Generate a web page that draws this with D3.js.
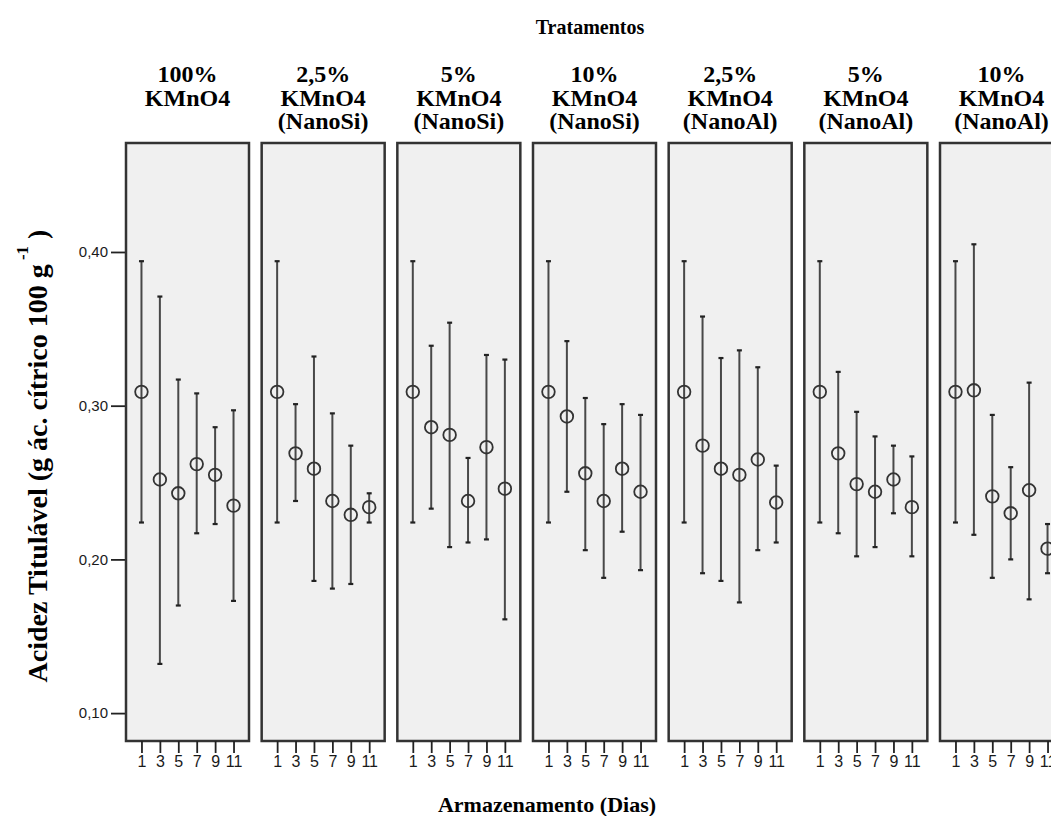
<!DOCTYPE html>
<html>
<head>
<meta charset="utf-8">
<script src="https://cdn.jsdelivr.net/npm/d3@7"></script>
<style>
  body { margin: 0; background: #fff; }
  svg { display: block; }
</style>
</head>
<body>
<div id="chart"></div>
<script>
// treatments (header lines), storage days and the mean / CI values per treatment
const treatments = [
  ["100%", "KMnO4"],
  ["2,5%", "KMnO4", "(NanoSi)"],
  ["5%", "KMnO4", "(NanoSi)"],
  ["10%", "KMnO4", "(NanoSi)"],
  ["2,5%", "KMnO4", "(NanoAl)"],
  ["5%", "KMnO4", "(NanoAl)"],
  ["10%", "KMnO4", "(NanoAl)"]
];
const days = [1, 3, 5, 7, 9, 11];
const yTicks = [0.10, 0.20, 0.30, 0.40];

const means = [
  [0.309, 0.252, 0.243, 0.262, 0.255, 0.235],
  [0.309, 0.269, 0.259, 0.238, 0.229, 0.234],
  [0.309, 0.286, 0.281, 0.238, 0.273, 0.246],
  [0.309, 0.293, 0.256, 0.238, 0.259, 0.244],
  [0.309, 0.274, 0.259, 0.255, 0.265, 0.237],
  [0.309, 0.269, 0.249, 0.244, 0.252, 0.234],
  [0.309, 0.310, 0.241, 0.230, 0.245, 0.207]
];
const upper = [
  [0.394, 0.371, 0.317, 0.308, 0.286, 0.297],
  [0.394, 0.301, 0.332, 0.295, 0.274, 0.243],
  [0.394, 0.339, 0.354, 0.266, 0.333, 0.330],
  [0.394, 0.342, 0.305, 0.288, 0.301, 0.294],
  [0.394, 0.358, 0.331, 0.336, 0.325, 0.261],
  [0.394, 0.322, 0.296, 0.280, 0.274, 0.267],
  [0.394, 0.405, 0.294, 0.260, 0.315, 0.223]
];
const lower = [
  [0.224, 0.132, 0.170, 0.217, 0.223, 0.173],
  [0.224, 0.238, 0.186, 0.181, 0.184, 0.224],
  [0.224, 0.233, 0.208, 0.211, 0.213, 0.161],
  [0.224, 0.244, 0.206, 0.188, 0.218, 0.193],
  [0.224, 0.191, 0.186, 0.172, 0.206, 0.211],
  [0.224, 0.217, 0.202, 0.208, 0.230, 0.202],
  [0.224, 0.216, 0.188, 0.200, 0.174, 0.191]
];

const width = 1051, height = 816;
const plotTop = 143, plotBottom = 741;

const svg = d3.select("#chart").append("svg")
  .attr("width", width)
  .attr("height", height);

// panel positions
const xPanel = d3.scaleBand()
  .domain(d3.range(treatments.length))
  .range([126, 1063])
  .paddingInner(0.0934)
  .paddingOuter(0);

const xDay = d3.scalePoint()
  .domain(days)
  .range([0, xPanel.bandwidth()])
  .padding(0.84);

const y = d3.scaleLinear()
  .domain([0.08185, 0.4709])
  .range([plotBottom, plotTop]);

const serif = "'Liberation Serif', 'Times New Roman', serif";
const sans = "'Liberation Sans', Arial, sans-serif";

// title on top
svg.append("text")
  .attr("x", 590)
  .attr("y", 34)
  .attr("text-anchor", "middle")
  .attr("font-family", serif)
  .attr("font-weight", "bold")
  .attr("font-size", 20)
  .text("Tratamentos");

// y axis (ticks to the left of first panel)
const yAxis = svg.append("g")
  .attr("transform", `translate(${xPanel(0)},0)`)
  .call(d3.axisLeft(y)
    .tickValues(yTicks)
    .tickSize(15)
    .tickPadding(3)
    .tickFormat(d => d3.format(".2f")(d).replace(".", ",")));
yAxis.select(".domain").remove();
yAxis.selectAll("line").attr("stroke", "#222").attr("stroke-width", 1.8);
yAxis.selectAll("text")
  .attr("font-family", sans)
  .attr("font-size", 15)
  .attr("fill", "#1a1a1a");

// y title with superscript
const yTitle = svg.append("text")
  .attr("transform", "translate(47,456) rotate(-90)")
  .attr("text-anchor", "middle")
  .attr("font-family", serif)
  .attr("font-weight", "bold")
  .attr("font-size", 28);
yTitle.append("tspan").text("Acidez Titulável (g ác. cítrico 100 g");
yTitle.append("tspan").attr("dy", -19).attr("font-size", 17).text(" -1");
yTitle.append("tspan").attr("dy", 19).text(" )");

// x title
svg.append("text")
  .attr("x", 547)
  .attr("y", 812)
  .attr("text-anchor", "middle")
  .attr("font-family", serif)
  .attr("font-weight", "bold")
  .attr("font-size", 22)
  .text("Armazenamento (Dias)");

const panels = svg.selectAll(".panel")
  .data(treatments.map((t, i) => ({
    i,
    label: t,
    points: days.map((d, j) => ({ day: d, mean: means[i][j], lo: lower[i][j], hi: upper[i][j] }))
  })))
  .join("g")
  .attr("class", "panel")
  .attr("transform", d => `translate(${xPanel(d.i)},0)`);

// header lines
panels.append("text")
  .attr("text-anchor", "middle")
  .attr("font-family", serif)
  .attr("font-weight", "bold")
  .attr("font-size", 24)
  .selectAll("tspan")
  .data(d => d.label)
  .join("tspan")
  .attr("x", xPanel.bandwidth() / 2)
  .attr("y", (d, k) => 82 + k * 23.5)
  .text(d => d);

panels.append("rect")
  .attr("x", 0)
  .attr("y", plotTop)
  .attr("width", xPanel.bandwidth())
  .attr("height", plotBottom - plotTop)
  .attr("fill", "#f0f0f0")
  .attr("stroke", "#333")
  .attr("stroke-width", 2.5);

// x axis per panel
panels.each(function() {
  const ax = d3.select(this).append("g")
    .attr("transform", `translate(0,${plotBottom})`)
    .call(d3.axisBottom(xDay).tickSize(12).tickPadding(3));
  ax.select(".domain").remove();
  ax.selectAll("line").attr("stroke", "#222").attr("stroke-width", 1.8);
  ax.selectAll("text")
    .attr("font-family", sans)
    .attr("font-size", 16)
    .attr("fill", "#1a1a1a");
});

// error bars
const bars = panels.selectAll(".bar")
  .data(d => d.points)
  .join("g")
  .attr("class", "bar")
  .attr("transform", d => `translate(${xDay(d.day)},0)`);

bars.append("line")
  .attr("y1", d => y(d.hi))
  .attr("y2", d => y(d.lo))
  .attr("stroke", "#484848")
  .attr("stroke-width", 2);

bars.selectAll(".cap")
  .data(d => [d.hi, d.lo])
  .join("line")
  .attr("class", "cap")
  .attr("x1", -2.5)
  .attr("x2", 2.5)
  .attr("y1", v => y(v))
  .attr("y2", v => y(v))
  .attr("stroke", "#222")
  .attr("stroke-width", 2.2);

bars.append("circle")
  .attr("cy", d => y(d.mean))
  .attr("r", 6.3)
  .attr("fill", "none")
  .attr("stroke", "#333")
  .attr("stroke-width", 1.8);
</script>
</body>
</html>
